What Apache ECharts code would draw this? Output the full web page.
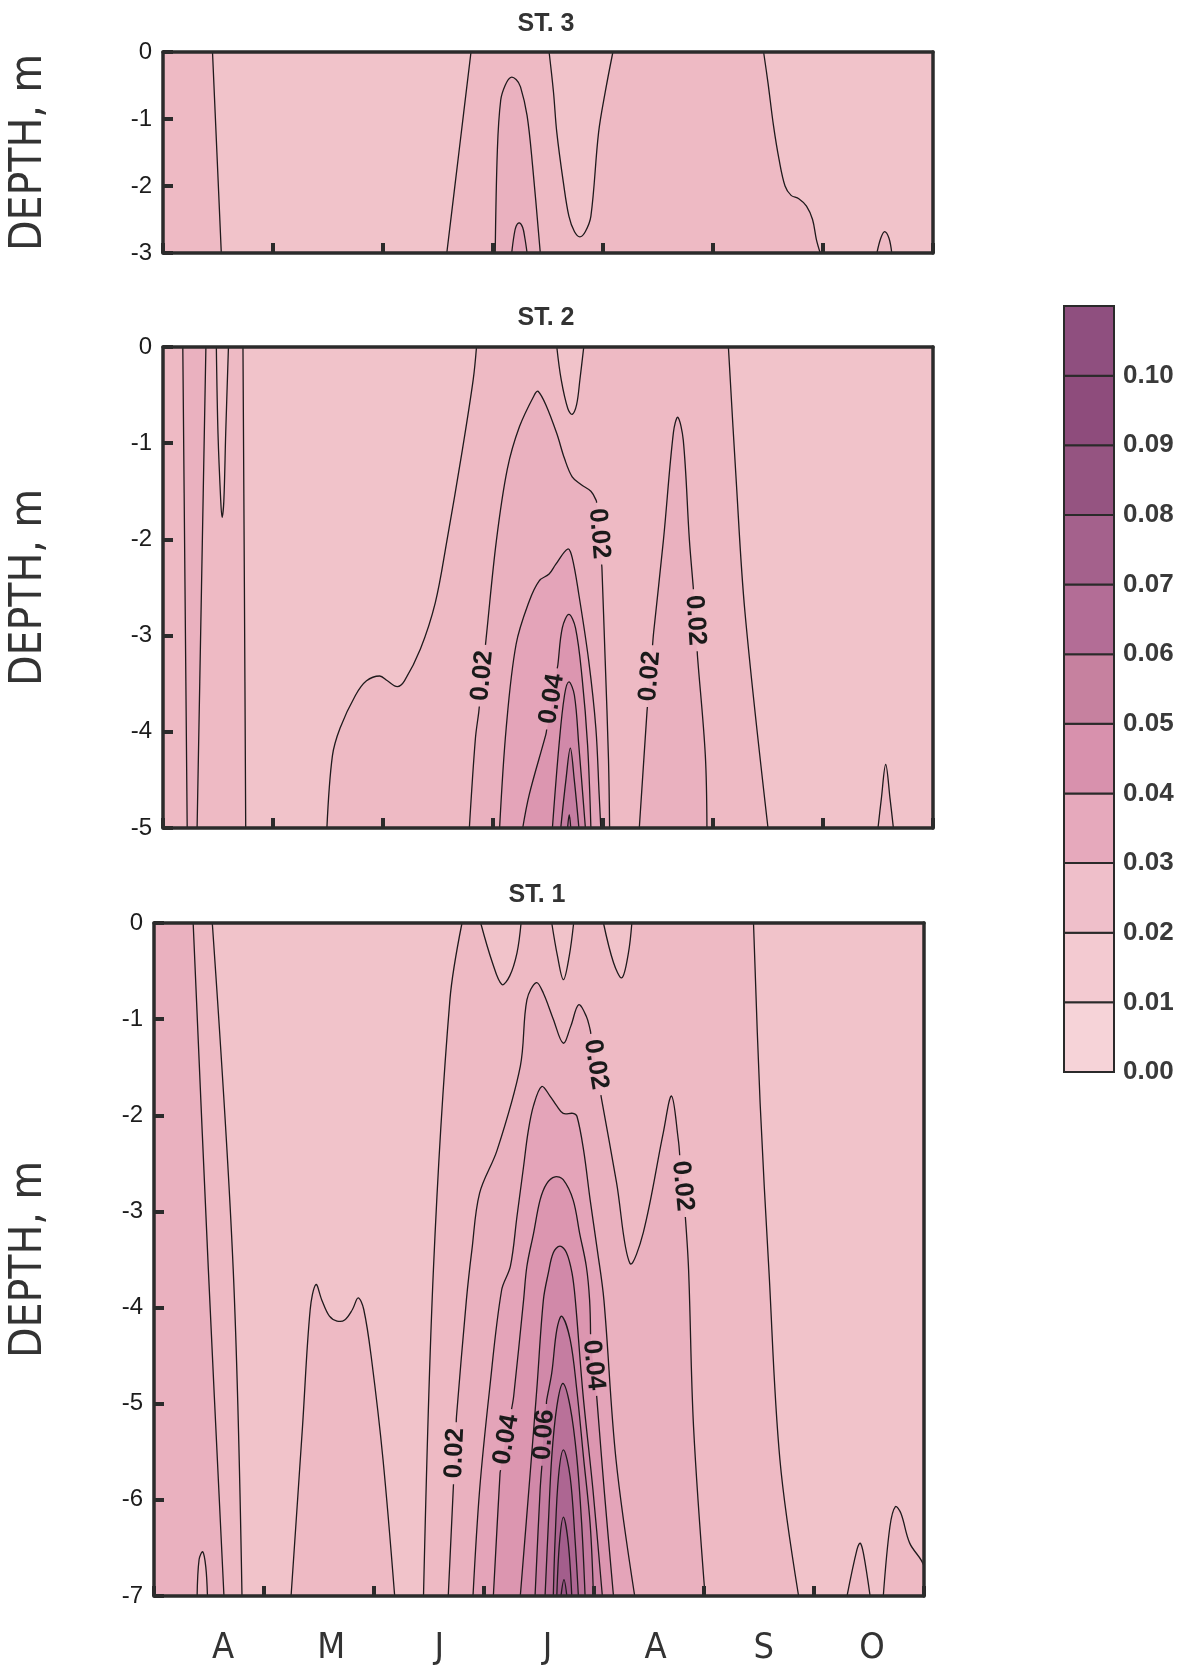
<!DOCTYPE html>
<html><head><meta charset="utf-8">
<script src="https://cdn.jsdelivr.net/npm/echarts@6/dist/echarts.min.js"></script>
<style>html,body{margin:0;padding:0;background:#fff}#c{width:1194px;height:1669px}</style>
</head><body><div id="c"></div>
<script>
// ---------- axes / categories ----------
const monthLabels = ['A','M','J','J','A','S','O'];
const monthRange = [0, 7];
const st3Depth = [-3, 0];
const st2Depth = [-5, 0];
const st1Depth = [-7, 0];
const cbarLevels = [0.00,0.01,0.02,0.03,0.04,0.05,0.06,0.07,0.08,0.09,0.10,0.11];

// ---------- ST. 3 contour lines [month, depth] ----------
const st3Line1 = [[0.45,0],[0.49,-1.5],[0.53,-3]];
const st3Line2 = [[2.80,0],[2.69,-1.5],[2.58,-3]];
const st3Bump = [[3.02,-3],[3.04,-1.45],[3.07,-0.72],[3.11,-0.5],[3.16,-0.38],[3.21,-0.41],[3.25,-0.52],[3.31,-0.95],[3.36,-1.7],[3.43,-3]];
const st3BumpInner = [[3.17,-3],[3.19,-2.75],[3.21,-2.6],[3.24,-2.55],[3.27,-2.62],[3.29,-2.78],[3.31,-3]];
const st3Trough = [[3.51,0],[3.55,-0.6],[3.58,-1.2],[3.64,-1.95],[3.69,-2.45],[3.74,-2.68],[3.79,-2.76],[3.84,-2.68],[3.89,-2.45],[3.96,-1.2],[4.02,-0.6],[4.09,0]];
const st3Line5 = [[5.46,0],[5.50,-0.46],[5.55,-1.1],[5.60,-1.6],[5.655,-2.0],[5.71,-2.14],[5.78,-2.19],[5.85,-2.3],[5.905,-2.5],[5.94,-2.8],[5.975,-3]];
const st3Spike = [[6.49,-3],[6.525,-2.78],[6.56,-2.68],[6.6,-2.78],[6.625,-3]];

// ---------- ST. 2 ----------
const st2Line1 = [[0.18,0],[0.20,-2.5],[0.22,-5]];
const st2Line2 = [[0.39,0],[0.35,-2.5],[0.31,-5]];
const st2Spike1 = [[0.485,0],[0.50,-0.9],[0.525,-1.6],[0.537,-1.77],[0.553,-1.6],[0.57,-0.9],[0.595,0]];
const st2Line4 = [[0.727,0],[0.74,-2.5],[0.752,-5]];
const st2Line5 = [[2.85,0],[2.82,-0.34],[2.72,-1.08],[2.58,-2.02],[2.475,-2.66],[2.34,-3.14],[2.195,-3.47],[2.13,-3.53],[2.04,-3.47],[1.97,-3.42],[1.85,-3.47],[1.75,-3.62],[1.61,-3.96],[1.54,-4.25],[1.49,-5]];
const st2Dome02 = [[2.785,-5],[2.84,-4.07],[2.87,-3.8],[2.94,-3.0],[3.03,-2.02],[3.13,-1.27],[3.24,-0.83],[3.38,-0.49],[3.41,-0.46],[3.48,-0.6],[3.58,-0.9],[3.65,-1.16],[3.72,-1.35],[3.8,-1.43],[3.89,-1.5],[3.94,-1.6],[3.99,-2.29],[4.02,-3.26],[4.05,-4.29],[4.06,-5]];
const st2Dome03 = [[3.06,-5],[3.12,-3.96],[3.21,-3.09],[3.33,-2.64],[3.42,-2.43],[3.51,-2.36],[3.57,-2.26],[3.68,-2.1],[3.72,-2.19],[3.78,-2.57],[3.87,-3.26],[3.935,-3.96],[3.965,-4.65],[3.98,-5]];
const st2Dome04 = [[3.27,-5],[3.33,-4.65],[3.48,-4.03],[3.59,-3.3],[3.63,-2.92],[3.69,-2.78],[3.75,-2.92],[3.81,-3.44],[3.86,-4.14],[3.89,-5]];
const st2Dome05 = [[3.54,-5],[3.60,-4.14],[3.65,-3.62],[3.69,-3.48],[3.74,-3.62],[3.78,-4.14],[3.84,-5]];
const st2Dome06 = [[3.616,-5],[3.664,-4.49],[3.703,-4.17],[3.738,-4.49],[3.781,-5]];
const st2Dome07 = [[3.678,-5],[3.693,-4.86],[3.707,-5]];
const st2Trough = [[3.58,0],[3.62,-0.34],[3.68,-0.64],[3.72,-0.70],[3.76,-0.60],[3.79,-0.34],[3.825,0]];
const st2Spike2 = [[4.33,-5],[4.40,-3.79],[4.46,-2.97],[4.55,-2.0],[4.64,-0.89],[4.68,-0.73],[4.73,-0.97],[4.785,-2.0],[4.82,-2.49],[4.86,-3.23],[4.93,-4.24],[4.945,-5]];
const st2Line7 = [[5.14,0],[5.21,-1.37],[5.29,-2.75],[5.50,-5]];
const st2Spike3 = [[6.50,-5],[6.53,-4.7],[6.57,-4.34],[6.61,-4.7],[6.64,-5]];
const st2Labels = [[2.93,-3.42,'0.02'],[3.543,-3.66,'0.04'],[3.963,-1.94,'0.02'],[4.418,-3.42,'0.02'],[4.842,-2.84,'0.02']];

// ---------- ST. 1 ----------
const st1Line1 = [[0.356,0],[0.494,-3.6],[0.636,-7]];
const st1Line2 = [[0.53,0],[0.72,-3.6],[0.80,-7]];
const st1SpikeL = [[0.392,-7],[0.41,-6.62],[0.443,-6.54],[0.471,-6.70],[0.486,-7]];
const st1Hump = [[1.246,-7],[1.35,-5.24],[1.42,-4.02],[1.472,-3.76],[1.525,-3.92],[1.595,-4.09],[1.664,-4.14],[1.733,-4.13],[1.804,-4.02],[1.856,-3.90],[1.907,-4.02],[1.978,-4.54],[2.082,-5.58],[2.188,-7]];
const st1Line4 = [[2.80,0],[2.69,-0.8],[2.54,-3.61],[2.45,-7]];
const st1Dome02 = [[2.675,-7],[2.72,-5.9],[2.75,-5.13],[2.84,-3.92],[2.89,-3.4],[2.96,-2.81],[3.12,-2.36],[3.33,-1.49],[3.39,-0.80],[3.476,-0.62],[3.54,-0.73],[3.63,-1.0],[3.72,-1.25],[3.79,-1.07],[3.86,-0.85],[3.93,-0.97],[3.965,-1.11],[4.07,-1.84],[4.205,-2.70],[4.327,-3.54],[4.448,-3.22],[4.63,-2.18],[4.705,-1.80],[4.766,-2.25],[4.83,-3.05],[4.86,-3.61],[4.905,-5.24],[5.01,-7]];
const st1Trough1 = [[2.97,0],[3.076,-0.41],[3.163,-0.64],[3.234,-0.55],[3.30,-0.31],[3.337,0]];
const st1Trough2 = [[3.616,0],[3.669,-0.35],[3.722,-0.59],[3.774,-0.35],[3.815,0]];
const st1Trough3 = [[4.086,0],[4.177,-0.41],[4.253,-0.57],[4.313,-0.31],[4.344,0]];
const st1Dome03 = [[2.90,-7],[2.96,-5.9],[3.05,-4.86],[3.16,-3.82],[3.24,-3.57],[3.30,-3.05],[3.36,-2.53],[3.40,-2.18],[3.45,-1.9],[3.525,-1.70],[3.60,-1.80],[3.66,-1.9],[3.72,-1.98],[3.81,-1.98],[3.845,-2.01],[3.905,-2.36],[3.965,-2.88],[4.03,-3.40],[4.09,-3.92],[4.20,-5.58],[4.37,-7]];
const st1Dome04 = [[3.085,-7],[3.146,-5.72],[3.24,-5.13],[3.27,-4.92],[3.36,-3.92],[3.39,-3.57],[3.45,-3.23],[3.51,-2.88],[3.57,-2.71],[3.646,-2.64],[3.72,-2.67],[3.81,-2.88],[3.87,-3.23],[3.93,-3.57],[3.96,-3.92],[3.97,-4.33],[4.02,-4.86],[4.095,-5.93],[4.177,-7]];
const st1Dome05 = [[3.33,-7],[3.42,-5.72],[3.48,-4.85],[3.54,-3.92],[3.585,-3.64],[3.63,-3.43],[3.69,-3.36],[3.75,-3.43],[3.80,-3.64],[3.83,-3.92],[3.90,-4.9],[3.99,-5.89],[4.076,-7]];
const st1Dome06 = [[3.464,-7],[3.51,-5.9],[3.57,-4.96],[3.616,-4.68],[3.662,-4.23],[3.707,-4.09],[3.783,-4.33],[3.843,-4.85],[3.904,-5.55],[3.965,-6.25],[3.995,-7]];
const st1Dome07 = [[3.555,-7],[3.585,-6.25],[3.616,-5.55],[3.662,-5.03],[3.717,-4.79],[3.783,-5.03],[3.843,-5.55],[3.888,-6.25],[3.919,-7]];
const st1Dome08 = [[3.63,-7],[3.646,-6.42],[3.677,-5.76],[3.722,-5.48],[3.783,-5.76],[3.828,-6.42],[3.858,-7]];
const st1Dome09 = [[3.662,-7],[3.686,-6.45],[3.722,-6.18],[3.766,-6.45],[3.798,-7]];
const st1Dome10 = [[3.70,-7],[3.727,-6.83],[3.753,-7]];
const st1Line7 = [[5.45,0],[5.51,-1.87],[5.59,-3.61],[5.69,-5.58],[5.86,-7]];
const st1SpikeR1 = [[6.30,-7],[6.39,-6.52],[6.42,-6.45],[6.45,-6.56],[6.51,-7]];
const st1SpikeR2 = [[6.63,-7],[6.69,-6.28],[6.74,-6.07],[6.79,-6.14],[6.87,-6.45],[7.0,-6.69],[7.0,-7]];
const st1Labels = [[2.736,-5.515,'0.02'],[3.191,-5.371,'0.04'],[3.53,-5.322,'0.06'],[4.01,-4.596,'0.04'],[4.01,-1.473,'0.02'],[4.783,-2.739,'0.02']];

// ---------- styles ----------
const FILL = ['#f1c3ca','#eebac4','#eab1bf','#e4a4b9','#dc96b0','#d189a9','#c57da1','#b97199','#ad6692','#a35e8c','#9a5787'];
const CBAR = ['#f6d3d8','#f3cad1','#efbfca','#e6a9bc','#d891ad','#c6819f','#b36d96','#a4618c','#955481','#8e4c7c','#8f4f7f'];
const AX = '#2b2b2b';
const LINE = '#1f1a1c';
const SMOOTH = 0.35;
const COND = "'Liberation Sans Narrow','Arial Narrow','DejaVu Sans Condensed','Liberation Sans',sans-serif";
const SANS = "'Liberation Sans',Arial,Helvetica,sans-serif";
const LABEL_HALF_GAP = 31;

// region fills: [line, closure, level]
const panels = [
  { title:'ST. 3', tx:546, ty:24, grid:{left:163, top:52, width:770, height:201}, depth:st3Depth, nameGap:111,
    fills:[[st3Line1,'left',1],[st3Line2,'right',1],[st3Line5,'right',0],[st3Trough,'self',0],[st3Bump,'self',2],[st3BumpInner,'self',3],[st3Spike,'self',1]],
    lines:[st3Line1,st3Line2,st3Bump,st3BumpInner,st3Trough,st3Line5,st3Spike],
    labels:[], labelLine:[], dir:[] },
  { title:'ST. 2', tx:546, ty:318, grid:{left:163, top:347, width:770, height:481}, depth:st2Depth, nameGap:111,
    fills:[[st2Line4,'left',1],[st2Line2,'left',2],[st2Line1,'left',1],[st2Spike1,'self',0],[st2Line5,'right',1],[st2Line7,'right',0],[st2Trough,'self',0],
           [st2Dome02,'self',2],[st2Dome03,'self',3],[st2Dome04,'self',4],[st2Dome05,'self',5],[st2Dome06,'self',6],[st2Dome07,'self',7],[st2Spike2,'self',2],[st2Spike3,'self',1]],
    lines:[st2Line1,st2Line2,st2Spike1,st2Line4,st2Line5,st2Dome02,st2Dome03,st2Dome04,st2Dome05,st2Dome06,st2Dome07,st2Trough,st2Spike2,st2Line7,st2Spike3],
    labels:st2Labels, labelLine:[st2Dome02,st2Dome04,st2Dome02,st2Spike2,st2Spike2], dir:[1,1,-1,1,-1] },
  { title:'ST. 1', tx:537, ty:895, grid:{left:154, top:923, width:770, height:673}, depth:st1Depth, nameGap:102,
    fills:[[st1Line2,'left',1],[st1Line1,'left',2],[st1SpikeL,'self',1],[st1Hump,'self',1],[st1Line4,'right',1],[st1Line7,'right',0],
           [st1Trough1,'self',0],[st1Trough2,'self',0],[st1Trough3,'self',0],
           [st1Dome02,'self',2],[st1Dome03,'self',3],[st1Dome04,'self',4],[st1Dome05,'self',5],[st1Dome06,'self',6],[st1Dome07,'self',7],[st1Dome08,'self',8],[st1Dome09,'self',9],[st1Dome10,'self',10],
           [st1SpikeR1,'self',1],[st1SpikeR2,'self',1]],
    lines:[st1Line1,st1Line2,st1SpikeL,st1Hump,st1Line4,st1Dome02,st1Trough1,st1Trough2,st1Trough3,st1Dome03,st1Dome04,st1Dome05,st1Dome06,st1Dome07,st1Dome08,st1Dome09,st1Dome10,st1Line7,st1SpikeR1,st1SpikeR2],
    labels:st1Labels, labelLine:[st1Dome02,st1Dome04,st1Dome06,st1Dome04,st1Dome02,st1Dome02], dir:[1,1,1,-1,-1,-1] }
];

function bounds(params){
  const c = params.coordSys;
  return [[c.x, c.y],[c.x + c.width, c.y + c.height]];
}
function fillPoints(api, line, close){
  const pts = line.map(p => api.coord(p));
  const first = pts[0], last = pts[pts.length-1];
  const out = [first].concat(pts, [last]);
  if (close === 'left' || close === 'right'){
    const xe = close === 'left' ? monthRange[0] : monthRange[1];
    const c1 = api.coord([xe, line[line.length-1][1]]);
    const c2 = api.coord([xe, line[0][1]]);
    out.push(c1, c1, c2, c2);
  }
  return out;
}
function cumLen(pts){
  const cum = [0];
  for (let i = 1; i < pts.length; i++) cum.push(cum[i-1] + Math.hypot(pts[i][0]-pts[i-1][0], pts[i][1]-pts[i-1][1]));
  return cum;
}
// nearest point on a screen polyline
function snap(pts, c){
  const cum = cumLen(pts);
  let best = null;
  for (let i = 1; i < pts.length; i++){
    const a = pts[i-1], b = pts[i];
    const dx = b[0]-a[0], dy = b[1]-a[1];
    const L = dx*dx + dy*dy || 1;
    let t = ((c[0]-a[0])*dx + (c[1]-a[1])*dy) / L;
    t = Math.max(0, Math.min(1, t));
    const q = [a[0]+dx*t, a[1]+dy*t];
    const d = Math.hypot(q[0]-c[0], q[1]-c[1]);
    if (!best || d < best.d) best = {d, pt:q, dx, dy, s: cum[i-1] + t*(cum[i]-cum[i-1])};
  }
  return best;
}
function pointAt(pts, cum, s){
  for (let i = 1; i < pts.length; i++){
    if (s <= cum[i] || i === pts.length-1){
      const seg = cum[i]-cum[i-1] || 1;
      const t = Math.max(0, Math.min(1, (s-cum[i-1])/seg));
      return [pts[i-1][0]+(pts[i][0]-pts[i-1][0])*t, pts[i-1][1]+(pts[i][1]-pts[i-1][1])*t];
    }
  }
  return pts[pts.length-1];
}
// remove arc-length intervals (label gaps) from a screen polyline
function splitByGaps(pts, gaps){
  const cum = cumLen(pts), total = cum[cum.length-1];
  gaps.sort((a,b)=>a[0]-b[0]);
  const keep = []; let u = 0;
  gaps.forEach(g => { if (g[0] > u) keep.push([u, g[0]]); u = Math.max(u, g[1]); });
  if (u < total) keep.push([u, total]);
  return keep.map(([a,b]) => {
    const pc = [pointAt(pts, cum, a)];
    for (let i = 0; i < pts.length; i++) if (cum[i] > a && cum[i] < b) pc.push(pts[i]);
    pc.push(pointAt(pts, cum, b));
    return pc;
  }).filter(pc => pc.length > 1);
}

const grids = [], xAxes = [], yAxes = [], series = [], graphics = [];
const lineAxis = (extra) => Object.assign({
  axisLine:{show:true, onZero:false, lineStyle:{color:AX, width:3.5}},
  axisTick:{show:false}, axisLabel:{show:false}, splitLine:{show:false}, z:10
}, extra);

panels.forEach((p, i) => {
  grids.push(Object.assign({show:true, backgroundColor:FILL[0], borderWidth:0}, p.grid));
  const xi = xAxes.length, yi = yAxes.length;
  xAxes.push(lineAxis({gridIndex:i, type:'value', min:monthRange[0], max:monthRange[1], interval:1, position:'bottom',
    axisTick:{show:true, inside:true, length:10, lineStyle:{color:AX, width:4}}}));
  xAxes.push(lineAxis({gridIndex:i, type:'value', min:monthRange[0], max:monthRange[1], position:'top'}));
  yAxes.push(lineAxis({gridIndex:i, type:'value', min:p.depth[0], max:p.depth[1], interval:1, position:'left',
    axisTick:{show:true, inside:true, length:10, lineStyle:{color:AX, width:4}},
    axisLabel:{show:true, fontSize:24, color:'#1c1c1c', margin:11, fontFamily:SANS},
    name:'DEPTH, m', nameLocation:'middle', nameGap:p.nameGap,
    nameTextStyle:{fontSize:44, color:'#333', fontFamily:COND}}));
  yAxes.push(lineAxis({gridIndex:i, type:'value', min:p.depth[0], max:p.depth[1], position:'right'}));

  series.push({
    type:'custom', xAxisIndex:xi, yAxisIndex:yi, z:1, silent:true, animation:false,
    data:p.fills.map((f,k)=>[k]),
    renderItem:(params, api) => {
      const f = p.fills[params.dataIndex];
      return {type:'polygon', shape:{points:fillPoints(api, f[0], f[1]), smooth:SMOOTH, smoothConstraint:bounds(params)},
              style:{fill:FILL[f[2]], stroke:null}};
    }
  });
  series.push({
    type:'custom', xAxisIndex:xi, yAxisIndex:yi, z:2, silent:true, animation:false,
    data:p.lines.map((l,k)=>[k]),
    renderItem:(params, api) => {
      const l = p.lines[params.dataIndex];
      const pts = l.map(q=>api.coord(q));
      const gaps = [];
      p.labelLine.forEach((ll, k) => {
        if (ll !== l) return;
        const s = snap(pts, api.coord([p.labels[k][0], p.labels[k][1]]));
        gaps.push([s.s - LABEL_HALF_GAP, s.s + LABEL_HALF_GAP]);
      });
      const pieces = gaps.length ? splitByGaps(pts, gaps) : [pts];
      const b = bounds(params);
      return {type:'group', children: pieces.map(pc => ({type:'polyline',
        shape:{points:pc, smooth:SMOOTH, smoothConstraint:b},
        style:{fill:null, stroke:LINE, lineWidth:1.3}}))};
    }
  });
  if (p.labels.length){
    series.push({
      type:'custom', xAxisIndex:xi, yAxisIndex:yi, z:3, silent:true, animation:false,
      data:p.labels.map((l,k)=>[k]),
      renderItem:(params, api) => {
        const k = params.dataIndex, lab = p.labels[k];
        const pts = p.labelLine[k].map(q=>api.coord(q));
        const s = snap(pts, api.coord([lab[0], lab[1]]));
        let ang = Math.atan2(-s.dy, s.dx);
        if (p.dir[k] > 0 && ang < 0) ang += Math.PI;
        if (p.dir[k] < 0 && ang > 0) ang -= Math.PI;
        return {type:'text', x:s.pt[0], y:s.pt[1], rotation:ang,
          style:{text:lab[2], x:0, y:0, font:'bold 26px ' + SANS, fill:'#1a1a1a',
                 align:'center', verticalAlign:'middle', textAlign:'center', textVerticalAlign:'middle'}};
      }
    });
  }
  graphics.push({type:'text', x:p.tx, y:p.ty, silent:true,
    style:{text:p.title, font:'bold 25px ' + SANS, fill:'#333', align:'center', verticalAlign:'middle', textAlign:'center', textVerticalAlign:'middle'}});
});

// colorbar grid
const cbGrid = grids.length;
grids.push({left:1064, top:306, width:50, height:766});
const cbx = xAxes.length, cby = yAxes.length;
xAxes.push({gridIndex:cbGrid, type:'value', min:0, max:1, show:false});
yAxes.push({gridIndex:cbGrid, type:'value', min:cbarLevels[0], max:cbarLevels[cbarLevels.length-1], interval:0.01, position:'right',
  axisLine:{show:false}, axisTick:{show:false}, splitLine:{show:false},
  axisLabel:{show:true, margin:9, fontSize:26, fontWeight:'bold', color:'#3a3a3a', fontFamily:SANS,
    formatter:(v)=> v > 0.105 ? '' : v.toFixed(2)}});
series.push({
  type:'custom', xAxisIndex:cbx, yAxisIndex:cby, silent:true, animation:false, z:2,
  data:CBAR.map((c,k)=>[k]),
  renderItem:(params, api) => {
    const k = params.dataIndex;
    const p0 = api.coord([0, cbarLevels[k]]), p1 = api.coord([1, cbarLevels[k+1]]);
    return {type:'rect', shape:{x:p0[0], y:p1[1], width:p1[0]-p0[0], height:p0[1]-p1[1]},
            style:{fill:CBAR[k], stroke:'#2a2a2a', lineWidth:2}};
  }
});

// month label axis (bottom panel)
const mGrid = grids.length;
grids.push({left:169, top:923, width:757, height:673});
xAxes.push({gridIndex:mGrid, type:'category', data:monthLabels, boundaryGap:true, position:'bottom',
  axisLine:{show:false}, axisTick:{show:false}, splitLine:{show:false},
  axisLabel:{show:true, interval:0, margin:35, fontSize:36, color:'#333', fontFamily:COND}});
yAxes.push({gridIndex:mGrid, type:'value', show:false});

const chart = echarts.init(document.getElementById('c'), null, {renderer:'canvas'});
chart.setOption({
  backgroundColor:'#ffffff',
  animation:false,
  grid:grids, xAxis:xAxes, yAxis:yAxes, series:series, graphic:graphics
});
</script></body></html>
